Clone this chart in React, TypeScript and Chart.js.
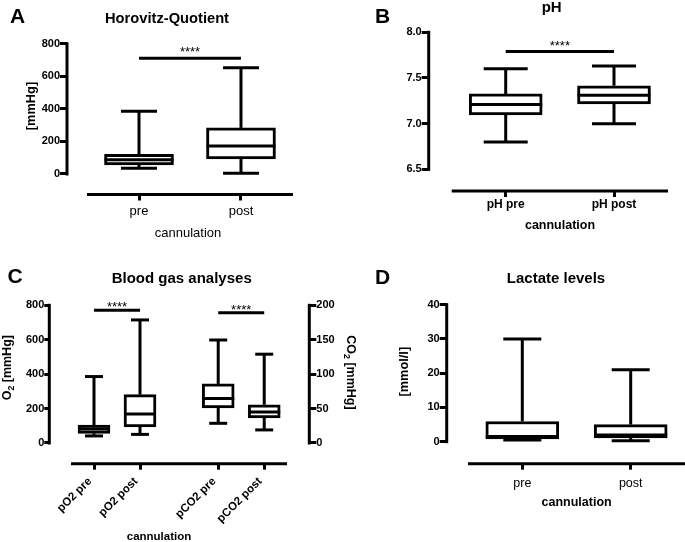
import React, { useEffect, useRef } from 'react';
import { Chart, registerables } from 'chart.js';

Chart.register(...registerables);

const FONT = "'Liberation Sans', Arial, Helvetica, sans-serif";
Chart.defaults.font.family = FONT;
Chart.defaults.color = '#000';

// ---------- Panel A: Horovitz-Quotient [mmHg]
const hqLabels = ['pre', 'post'];
const hqPositions = [1, 2];
const hqMin = [36, 4];
const hqQ1 = [56, 93];
const hqMedian = [88, 172];
const hqQ3 = [120, 283];
const hqMax = [386, 652];
const hqTicks = [0, 200, 400, 600, 800];
const hqSigLevel = 710;

// ---------- Panel B: pH
const phLabels = ['pH pre', 'pH post'];
const phPositions = [1, 2];
const phMin = [6.8, 7.0];
const phQ1 = [7.095, 7.215];
const phMedian = [7.21, 7.31];
const phQ3 = [7.325, 7.415];
const phMax = [7.6, 7.63];
const phTicks = [6.5, 7.0, 7.5, 8.0];
const phSigLevel = 7.79;

// ---------- Panel C: Blood gas analyses
const bgLabels = ['pO2 pre', 'pO2 post', 'pCO2 pre', 'pCO2 post'];
const bgPositions = [1, 2, 3.7, 4.7];
const o2Min = [41, 50];
const o2Q1 = [56, 93];
const o2Median = [82, 168];
const o2Q3 = [104, 281];
const o2Max = [386, 715];
const co2Min = [28.6, 19];
const co2Q1 = [50.8, 36.5];
const co2Median = [64.5, 45];
const co2Q3 = [85.8, 55.5];
const co2Max = [149.6, 129];
const o2Ticks = [0, 200, 400, 600, 800];
const co2Ticks = [0, 50, 100, 150, 200];
const o2SigLevel = 771;
const co2SigLevel = 189;

// ---------- Panel D: Lactate levels [mmol/l]
const lacLabels = ['pre', 'post'];
const lacPositions = [1, 2];
const lacMin = [0.5, 0.3];
const lacQ1 = [0.8, 1.1];
const lacMedian = [1.5, 1.95];
const lacQ3 = [5.9, 5.0];
const lacMax = [30, 21];
const lacTicks = [0, 10, 20, 30, 40];

const W = 685;
const H = 542;
const AXW = 40;

type Part = { t: string; sub?: boolean };
type TextItem = { parts: Part[]; x: number; y: number; size: number; bold?: boolean; rot?: number };
type BoxSeries = {
  positions: number[];
  min: number[];
  q1: number[];
  median: number[];
  q3: number[];
  max: number[];
  axis: string;
};
type Sig = { from: number; to: number; level: number; axis: string };
type AxisSpec = {
  id: string;
  position: 'left' | 'right';
  min: number;
  max: number;
  ticks: number[];
  decimals: number;
  tickLen: number;
  pad: number;
};
type PanelSpec = {
  area: { left: number; top: number; right: number; bottom: number };
  xAxisHeight: number;
  xMin: number;
  xMax: number;
  xPositions: number[];
  xLabels: string[];
  xFontSize: number;
  xBold: boolean;
  xRotation: number;
  xPadding: number;
  xLabelOffset: number;
  axes: AxisSpec[];
  series: BoxSeries[];
  boxWidth: number;
  capWidth: number;
  sigs: Sig[];
  starLift: number;
  xLineStart: number;
  xLineEnd: number;
  texts: TextItem[];
};

const T = (t: string): Part[] => [{ t }];

const panelA: PanelSpec = {
  area: { left: 67, top: 43.7, right: 293, bottom: 194.5 },
  xAxisHeight: 40,
  xMin: 0.294,
  xMax: 2.51,
  xPositions: hqPositions,
  xLabels: hqLabels,
  xFontSize: 13,
  xBold: false,
  xRotation: 0,
  xPadding: 3.5,
  xLabelOffset: 0,
  axes: [{ id: 'y', position: 'left', min: -125.9, max: 800, ticks: hqTicks, decimals: 0, tickLen: 7, pad: 0 }],
  series: [{ positions: hqPositions, min: hqMin, q1: hqQ1, median: hqMedian, q3: hqQ3, max: hqMax, axis: 'y' }],
  boxWidth: 69,
  capWidth: 36,
  sigs: [{ from: hqPositions[0], to: hqPositions[1], level: hqSigLevel, axis: 'y' }],
  starLift: 10,
  xLineStart: 20,
  xLineEnd: 0,
  texts: [
    { parts: T('A'), x: 17.5, y: 17.5, size: 21, bold: true },
    { parts: T('Horovitz-Quotient'), x: 167, y: 19, size: 14.7, bold: true },
    { parts: T('[mmHg]'), x: 31, y: 106, size: 12.8, bold: true, rot: -90 },
    { parts: T('cannulation'), x: 188, y: 233, size: 13 },
  ],
};

const panelB: PanelSpec = {
  area: { left: 428.7, top: 32.3, right: 668, bottom: 191 },
  xAxisHeight: 40,
  xMin: 0.289,
  xMax: 2.4986,
  xPositions: phPositions,
  xLabels: phLabels,
  xFontSize: 12,
  xBold: true,
  xRotation: 0,
  xPadding: 0,
  xLabelOffset: 0,
  axes: [{ id: 'y', position: 'left', min: 6.2624, max: 8.0, ticks: phTicks, decimals: 1, tickLen: 7, pad: 0 }],
  series: [{ positions: phPositions, min: phMin, q1: phQ1, median: phMedian, q3: phQ3, max: phMax, axis: 'y' }],
  boxWidth: 73,
  capWidth: 44,
  sigs: [{ from: phPositions[0], to: phPositions[1], level: phSigLevel, axis: 'y' }],
  starLift: 9.4,
  xLineStart: 23,
  xLineEnd: 0,
  texts: [
    { parts: T('B'), x: 382.5, y: 17.5, size: 21, bold: true },
    { parts: T('pH'), x: 551.7, y: 7.5, size: 15, bold: true },
    { parts: T('cannulation'), x: 560, y: 225.7, size: 12.5, bold: true },
  ],
};

const panelC: PanelSpec = {
  area: { left: 49.3, top: 305.3, right: 309.3, bottom: 463.7 },
  xAxisHeight: 78,
  xMin: 0.0283,
  xMax: 5.68,
  xPositions: bgPositions,
  xLabels: bgLabels,
  xFontSize: 11.5,
  xBold: true,
  xRotation: 45,
  xPadding: 5,
  xLabelOffset: -4,
  axes: [
    { id: 'y', position: 'left', min: -120.3, max: 800, ticks: o2Ticks, decimals: 0, tickLen: 5, pad: 0 },
    { id: 'y2', position: 'right', min: -30.07, max: 200, ticks: co2Ticks, decimals: 0, tickLen: 7, pad: 0 },
  ],
  series: [
    { positions: bgPositions.slice(0, 2), min: o2Min, q1: o2Q1, median: o2Median, q3: o2Q3, max: o2Max, axis: 'y' },
    { positions: bgPositions.slice(2, 4), min: co2Min, q1: co2Q1, median: co2Median, q3: co2Q3, max: co2Max, axis: 'y2' },
  ],
  boxWidth: 32,
  capWidth: 18,
  sigs: [
    { from: bgPositions[0], to: bgPositions[1], level: o2SigLevel, axis: 'y' },
    { from: bgPositions[2], to: bgPositions[3], level: co2SigLevel, axis: 'y2' },
  ],
  starLift: 6.5,
  xLineStart: 21.7,
  xLineEnd: -22.3,
  texts: [
    { parts: T('C'), x: 15, y: 277, size: 21, bold: true },
    { parts: T('Blood gas analyses'), x: 181.7, y: 279, size: 15, bold: true },
    { parts: [{ t: 'O' }, { t: '2', sub: true }, { t: ' [mmHg]' }], x: 7.5, y: 367.7, size: 12.5, bold: true, rot: -90 },
    { parts: [{ t: 'CO' }, { t: '2', sub: true }, { t: ' [mmHg]' }], x: 350.8, y: 372.5, size: 12.5, bold: true, rot: 90 },
    { parts: T('cannulation'), x: 159, y: 537, size: 11.5, bold: true },
  ],
};

const panelD: PanelSpec = {
  area: { left: 446.7, top: 304.7, right: 682, bottom: 463.7 },
  xAxisHeight: 40,
  xMin: 0.3026,
  xMax: 2.4733,
  xPositions: lacPositions,
  xLabels: lacLabels,
  xFontSize: 12.5,
  xBold: false,
  xRotation: 0,
  xPadding: 5.9,
  xLabelOffset: 0,
  axes: [{ id: 'y', position: 'left', min: -6.42, max: 40, ticks: lacTicks, decimals: 0, tickLen: 7, pad: 0 }],
  series: [{ positions: lacPositions, min: lacMin, q1: lacQ1, median: lacMedian, q3: lacQ3, max: lacMax, axis: 'y' }],
  boxWidth: 73,
  capWidth: 38,
  sigs: [],
  starLift: 0,
  xLineStart: 21.3,
  xLineEnd: 3,
  texts: [
    { parts: T('D'), x: 382.5, y: 278, size: 21, bold: true },
    { parts: T('Lactate levels'), x: 556, y: 279, size: 15, bold: true },
    { parts: T('[mmol/l]'), x: 404, y: 371.7, size: 12.8, bold: true, rot: -90 },
    { parts: T('cannulation'), x: 576.6, y: 502.7, size: 12.5, bold: true },
  ],
};

function drawText(ctx: CanvasRenderingContext2D, item: TextItem) {
  ctx.save();
  ctx.translate(item.x, item.y);
  if (item.rot) ctx.rotate((item.rot * Math.PI) / 180);
  const w = item.bold ? 'bold ' : '';
  const mainFont = `${w}${item.size}px ${FONT}`;
  const subFont = `${w}${item.size * 0.7}px ${FONT}`;
  let total = 0;
  const widths = item.parts.map((p) => {
    ctx.font = p.sub ? subFont : mainFont;
    const m = ctx.measureText(p.t).width;
    total += m;
    return m;
  });
  let x = -total / 2;
  ctx.textBaseline = 'middle';
  ctx.textAlign = 'left';
  ctx.fillStyle = '#000';
  item.parts.forEach((p, i) => {
    ctx.font = p.sub ? subFont : mainFont;
    ctx.fillText(p.t, x, p.sub ? item.size * 0.32 : 0);
    x += widths[i];
  });
  ctx.restore();
}

function line(ctx: CanvasRenderingContext2D, x1: number, y1: number, x2: number, y2: number) {
  ctx.beginPath();
  ctx.moveTo(x1, y1);
  ctx.lineTo(x2, y2);
  ctx.stroke();
}

function buildChart(canvas: HTMLCanvasElement, spec: PanelSpec) {
  const hasRight = spec.axes.some((a) => a.position === 'right');
  const scales: any = {
    x: {
      type: 'linear',
      min: spec.xMin,
      max: spec.xMax,
      offset: false,
      bounds: 'data',
      afterBuildTicks: (s: any) => {
        s.ticks = spec.xPositions.map((v) => ({ value: v }));
      },
      afterFit: (s: any) => {
        s.height = spec.xAxisHeight;
      },
      grid: { display: true, drawOnChartArea: false, drawTicks: true, tickLength: 6, lineWidth: 3, color: '#000', offset: false },
      border: { display: false },
      ticks: {
        autoSkip: false,
        color: '#000',
        padding: spec.xPadding,
        labelOffset: spec.xLabelOffset,
        minRotation: spec.xRotation,
        maxRotation: spec.xRotation,
        font: { size: spec.xFontSize, weight: spec.xBold ? 'bold' : 'normal', family: FONT },
        callback: (_v: any, i: number) => spec.xLabels[i],
      },
    },
  };
  spec.axes.forEach((a) => {
    scales[a.id] = {
      type: 'linear',
      position: a.position,
      min: a.min,
      max: a.max,
      bounds: 'data',
      beginAtZero: false,
      afterBuildTicks: (s: any) => {
        s.ticks = a.ticks.map((v) => ({ value: v }));
      },
      afterFit: (s: any) => {
        s.width = AXW;
      },
      grid: { drawOnChartArea: false, drawTicks: true, tickLength: a.tickLen, lineWidth: 3, color: '#000' },
      border: { display: false },
      ticks: {
        color: '#000',
        padding: a.pad,
        font: { size: 11, weight: 'bold', family: FONT },
        callback: (v: any) => Number(v).toFixed(a.decimals),
      },
    };
  });

  const boxPlugin = {
    id: 'boxExtras',
    afterDatasetsDraw(chart: any) {
      const ctx: CanvasRenderingContext2D = chart.ctx;
      const xs = chart.scales.x;
      ctx.save();
      ctx.strokeStyle = '#000';
      ctx.lineWidth = 3;
      ctx.lineCap = 'butt';
      spec.series.forEach((s) => {
        const ys = chart.scales[s.axis];
        s.positions.forEach((p, i) => {
          const cx = xs.getPixelForValue(p);
          const pMin = ys.getPixelForValue(s.min[i]);
          const pQ1 = ys.getPixelForValue(s.q1[i]);
          const pMed = ys.getPixelForValue(s.median[i]);
          const pQ3 = ys.getPixelForValue(s.q3[i]);
          const pMax = ys.getPixelForValue(s.max[i]);
          line(ctx, cx, pQ3, cx, pMax);
          line(ctx, cx, pQ1, cx, pMin);
          line(ctx, cx - spec.capWidth / 2, pMax, cx + spec.capWidth / 2, pMax);
          line(ctx, cx - spec.capWidth / 2, pMin, cx + spec.capWidth / 2, pMin);
          line(ctx, cx - spec.boxWidth / 2, pMed, cx + spec.boxWidth / 2, pMed);
        });
      });
      ctx.restore();
    },
    afterDraw(chart: any) {
      const ctx: CanvasRenderingContext2D = chart.ctx;
      const area = chart.chartArea;
      const xs = chart.scales.x;
      ctx.save();
      ctx.strokeStyle = '#000';
      ctx.lineWidth = 3;
      // y axis lines
      ctx.lineCap = 'square';
      spec.axes.forEach((a) => {
        const ys = chart.scales[a.id];
        const x = a.position === 'left' ? area.left : area.right;
        line(ctx, x, ys.getPixelForValue(a.ticks[0]), x, ys.getPixelForValue(a.ticks[a.ticks.length - 1]));
      });
      // x axis line (detached from y axis)
      ctx.lineCap = 'butt';
      line(ctx, area.left + spec.xLineStart, area.bottom, area.right + spec.xLineEnd, area.bottom);
      // significance bars
      spec.sigs.forEach((sg) => {
        const ys = chart.scales[sg.axis];
        const y = ys.getPixelForValue(sg.level);
        const x1 = xs.getPixelForValue(sg.from);
        const x2 = xs.getPixelForValue(sg.to);
        line(ctx, x1, y, x2, y);
        ctx.font = `13px ${FONT}`;
        ctx.fillStyle = '#000';
        ctx.textAlign = 'center';
        ctx.textBaseline = 'alphabetic';
        ctx.fillText('****', (x1 + x2) / 2, y - spec.starLift + 7.5);
      });
      ctx.restore();
      spec.texts.forEach((t) => drawText(ctx, t));
    },
  };

  const datasets = spec.series.map((s) => ({
    type: 'bar' as const,
    yAxisID: s.axis,
    data: s.positions.map((p, i) => ({ x: p, y: [s.q1[i], s.q3[i]] })),
    backgroundColor: '#ffffff',
    borderColor: '#000000',
    borderWidth: 3,
    borderSkipped: false,
    barThickness: spec.boxWidth,
    grouped: false,
  }));

  return new Chart(canvas, {
    type: 'bar',
    data: { datasets: datasets as any },
    options: {
      responsive: false,
      animation: false,
      events: [],
      layout: {
        padding: {
          left: spec.area.left - AXW,
          top: spec.area.top,
          right: W - spec.area.right - (hasRight ? AXW : 0),
          bottom: H - spec.area.bottom - spec.xAxisHeight,
        },
      },
      plugins: { legend: { display: false }, tooltip: { enabled: false }, title: { display: false } },
      scales,
    } as any,
    plugins: [boxPlugin],
  });
}

function PanelCanvas({ spec }: { spec: PanelSpec }) {
  const ref = useRef<HTMLCanvasElement>(null);
  useEffect(() => {
    if (!ref.current) return;
    const chart = buildChart(ref.current, spec);
    return () => chart.destroy();
  }, [spec]);
  return (
    <canvas
      ref={ref}
      width={W}
      height={H}
      style={{ position: 'absolute', left: 0, top: 0, width: W, height: H }}
    />
  );
}

export default function App() {
  return (
    <div style={{ position: 'absolute', left: 0, top: 0, width: W, height: H, background: '#fff', overflow: 'hidden' }}>
      <PanelCanvas spec={panelA} />
      <PanelCanvas spec={panelB} />
      <PanelCanvas spec={panelC} />
      <PanelCanvas spec={panelD} />
    </div>
  );
}
